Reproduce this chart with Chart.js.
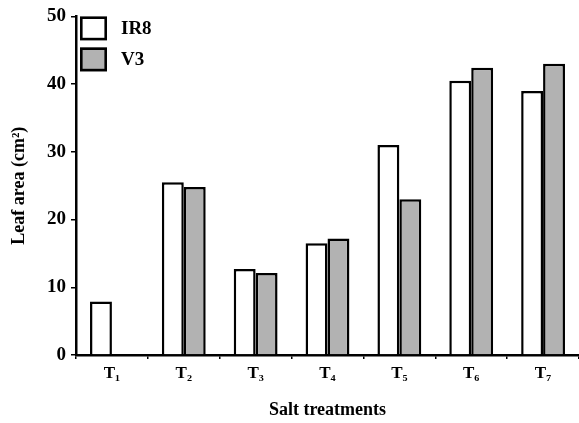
<!DOCTYPE html>
<html>
<head>
<meta charset="utf-8">
<script src="https://cdn.jsdelivr.net/npm/chart.js@4"></script>
<style>
  body { margin: 0; background: #fff; }
  #wrap { width: 579px; height: 423px; }
</style>
</head>
<body>
<div id="wrap"><canvas id="leafChart" width="579" height="423"></canvas></div>
<script>
    const categories = ['T\u2081', 'T\u2082', 'T\u2083', 'T\u2084', 'T\u2085', 'T\u2086', 'T\u2087'];
    const ir8 = [7.9, 25.5, 12.7, 16.5, 31.0, 40.5, 39.0];
    const v3 = [null, 24.8, 12.1, 17.2, 23.0, 42.4, 43.0];
    const yTicks = [0, 10, 20, 30, 40, 50];

    const serif = "'Liberation Serif', 'Times New Roman', serif";

    // legend boxes in the top left corner of the plot
    const boxLegend = {
      id: 'boxLegend',
      afterDraw(chart) {
        const {ctx, chartArea} = chart;
        ctx.save();
        let y = chartArea.top;
        chart.data.datasets.forEach((ds) => {
          const x = chartArea.left + 4;
          ctx.fillStyle = ds.backgroundColor;
          ctx.fillRect(x, y, 27, 24);
          ctx.lineWidth = 2.6;
          ctx.strokeStyle = '#000';
          ctx.strokeRect(x + 1.3, y + 1.3, 24.4, 21.4);
          ctx.fillStyle = '#000';
          ctx.font = 'bold 19px ' + serif;
          ctx.textBaseline = 'middle';
          ctx.fillText(ds.label, x + 41, y + 13);
          y += 31;
        });
        ctx.restore();
      }
    };

    new Chart('leafChart', {
      type: 'bar',
      data: {
        labels: categories,
        datasets: [
          {
            label: 'IR8',
            data: ir8,
            backgroundColor: '#ffffff',
            borderColor: '#000000',
            borderWidth: 2.5,
          },
          {
            label: 'V3',
            data: v3,
            backgroundColor: '#b2b2b2',
            borderColor: '#000000',
            borderWidth: 2.5,
          },
        ],
      },
      options: {
        responsive: false,
        animation: false,
        categoryPercentage: 0.61,
        barPercentage: 1.0,
        layout: {
          padding: { top: 15, left: 0, right: 0, bottom: 0 }
        },
        plugins: {
          legend: { display: false },
          tooltip: { enabled: false }
        },
        scales: {
          x: {
            afterFit(scale) { scale.height = 68; },
            grid: {
              drawOnChartArea: false,
              color: '#000',
              lineWidth: 1.5,
              tickLength: 4,
              offset: true
            },
            border: { color: '#000', width: 2.5 },
            ticks: {
              color: '#000',
              padding: 4,
              font: { family: serif, size: 17, weight: 'bold' }
            },
            title: {
              display: true,
              text: 'Salt treatments',
              color: '#000',
              padding: { top: 0, bottom: 2 },
              font: { family: serif, size: 18, weight: 'bold' }
            }
          },
          y: {
            min: 0,
            max: 50,
            afterFit(scale) { scale.width = 76; },
            afterBuildTicks(scale) {
              scale.ticks = yTicks.map(v => ({ value: v }));
            },
            grid: {
              drawOnChartArea: false,
              color: '#000',
              lineWidth: 1.5,
              tickLength: 5
            },
            border: { color: '#000', width: 2.5 },
            ticks: {
              color: '#000',
              padding: 5,
              font: { family: serif, size: 19, weight: 'bold' }
            },
            title: {
              display: true,
              text: 'Leaf area (cm\u00b2)',
              color: '#000',
              padding: { top: 9, bottom: 0 },
              font: { family: serif, size: 18, weight: 'bold' }
            }
          }
        }
      },
      plugins: [boxLegend]
    });
</script>
</body>
</html>
